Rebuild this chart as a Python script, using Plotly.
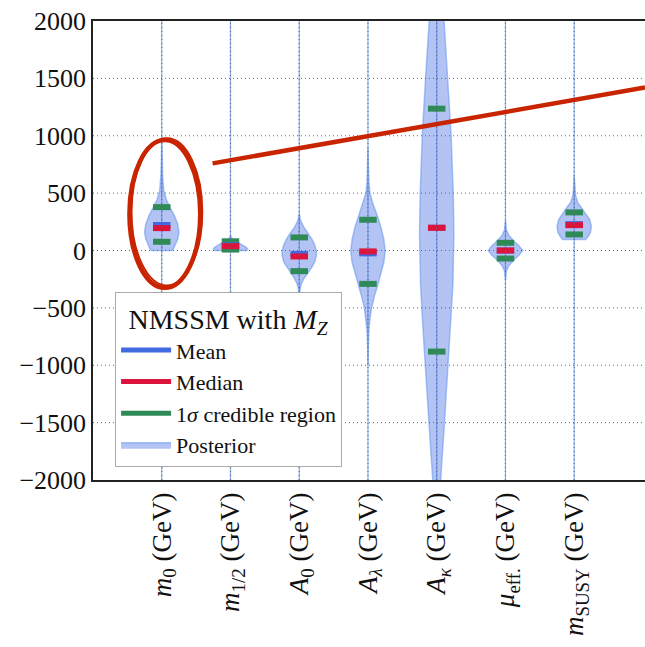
import plotly.graph_objects as go

# ---------------- data ----------------
categories = ["m0", "m12", "A0", "Alam", "Akap", "mueff", "msusy"]
tick_labels = [
    "<i>m</i><sub>0</sub> (GeV)",
    "<i>m</i><sub>1/2</sub> (GeV)",
    "<i>A</i><sub>0</sub> (GeV)",
    "<i>A</i><sub><i>λ</i></sub> (GeV)",
    "<i>A</i><sub><i>κ</i></sub> (GeV)",
    "<i>μ</i><sub>eff.</sub> (GeV)",
    "<i>m</i><sub>SUSY</sub> (GeV)",
]
mean_vals = [222, 45, -30, -25, 198, 0, 230]
median_vals = [195, 38, -52, -8, 198, 0, 221]
cred_low = [76, 8, -180, -291, -881, -70, 140]
cred_high = [378, 80, 114, 268, 1236, 67, 332]

# posterior density profiles: (value, relative half width)
prof_m0 = [(1000, 0.0), (800, 0.02), (650, 0.05), (520, 0.12), (440, 0.28), (370, 0.5),
           (300, 0.75), (230, 0.93), (160, 1.0), (100, 0.93), (50, 0.8), (15, 0.68), (0, 0.6)]
prof_m12 = [(130, 0.0), (110, 0.06), (90, 0.2), (70, 0.45), (50, 0.7), (30, 0.9),
            (12, 1.0), (0, 0.95)]
prof_A0 = [(320, 0.0), (260, 0.08), (200, 0.28), (150, 0.52), (100, 0.74), (50, 0.9),
           (0, 0.99), (-40, 1.0), (-100, 0.9), (-150, 0.72), (-200, 0.48), (-250, 0.25),
           (-300, 0.1), (-350, 0.03), (-390, 0.0)]
prof_Alam = [(900, 0.0), (700, 0.02), (600, 0.05), (500, 0.12), (400, 0.3), (300, 0.55),
             (200, 0.76), (100, 0.92), (0, 1.0), (-100, 0.93), (-200, 0.77), (-300, 0.57),
             (-400, 0.37), (-500, 0.21), (-600, 0.11), (-700, 0.05), (-850, 0.02), (-1000, 0.0)]
prof_Akap = [(2500, 0.22), (2000, 0.43), (1500, 0.65), (1000, 0.84), (500, 0.96), (150, 1.0),
             (-300, 0.94), (-700, 0.79), (-1000, 0.68), (-1500, 0.45), (-2000, 0.23), (-2500, 0.08)]
prof_mueff = [(260, 0.0), (180, 0.05), (130, 0.2), (80, 0.5), (40, 0.8), (0, 1.0),
              (-40, 0.8), (-80, 0.5), (-130, 0.2), (-180, 0.05), (-260, 0.0)]
prof_msusy = [(650, 0.0), (550, 0.03), (480, 0.08), (420, 0.2), (370, 0.45), (320, 0.7),
              (270, 0.9), (210, 1.0), (160, 0.95), (120, 0.8), (95, 0.66)]
profiles = [prof_m0, prof_m12, prof_A0, prof_Alam, prof_Akap, prof_mueff, prof_msusy]

y_ticks = [-2000, -1500, -1000, -500, 0, 500, 1000, 1500, 2000]

# ---------------- styling ----------------
FONT = "'Liberation Serif', 'Times New Roman', serif"
HALF = 0.25
FILL = "rgba(65,105,225,0.4)"
EDGE = "rgba(100,149,237,0.55)"
C_MEAN = "#4169e1"
C_MED = "#dc143c"
C_CRED = "#2e8b57"
X_RANGE = [-1.0, 7.03]

fig = go.Figure()

# violins
for i, prof in enumerate(profiles):
    ys = [p[0] for p in prof]
    ws = [p[1] for p in prof]
    xs = [i + HALF * w for w in ws] + [i - HALF * w for w in reversed(ws)]
    yy = ys + ys[::-1]
    fig.add_trace(go.Scatter(
        x=xs + [xs[0]], y=yy + [yy[0]], mode="lines", fill="toself",
        fillcolor=FILL, line=dict(color=EDGE, width=1.5),
        name="Posterior", legendgroup="post", showlegend=(i == 0),
        legendrank=4, hoverinfo="skip"))

xs_idx = list(range(len(categories)))

def bars(vals, color, name, rank, legend=True):
    fig.add_trace(go.Scatter(
        x=xs_idx, y=vals, mode="markers", showlegend=False,
        marker=dict(symbol="line-ew", size=12.5,
                    line=dict(color=color, width=6)), hoverinfo="skip"))
    if legend:
        fig.add_trace(go.Scatter(
            x=[None], y=[None], mode="lines", name=name, legendrank=rank,
            line=dict(color=color, width=5)))

bars(cred_low, C_CRED, "1<i>σ</i> credible region", 3)
bars(cred_high, C_CRED, "", 3, legend=False)
bars(mean_vals, C_MEAN, "Mean", 1)
bars(median_vals, C_MED, "Median", 2)

shapes = []
# light blue vertical bars at each category (full height)
for i in xs_idx:
    shapes.append(dict(type="line", xref="x", yref="paper", x0=i, x1=i, y0=0, y1=1,
                       line=dict(color="rgba(100,149,237,0.75)", width=1.3), layer="below"))
# dotted grid above data
for i in xs_idx:
    shapes.append(dict(type="line", xref="x", yref="paper", x0=i, x1=i, y0=0, y1=1,
                       line=dict(color="#666", width=1, dash="1px,3px"), layer="above"))
for v in y_ticks[1:-1]:
    shapes.append(dict(type="line", xref="paper", yref="y", x0=0, x1=1, y0=v, y1=v,
                       line=dict(color="#666", width=1, dash="1px,3px"), layer="above"))

# hand-drawn style red highlight
RED = "#c92400"
shapes.append(dict(type="circle", xref="x", yref="y", x0=-0.47, x1=0.56, y0=-325, y1=962,
                   line=dict(color=RED, width=4.5), layer="above"))
shapes.append(dict(type="circle", xref="x", yref="y", x0=-0.44, x1=0.59, y0=-305, y1=978,
                   line=dict(color=RED, width=2), layer="above"))
shapes.append(dict(type="line", xref="x", yref="y", x0=0.74, y0=759, x1=7.03, y1=1420,
                   line=dict(color=RED, width=4.5), layer="above"))

fig.update_layout(
    width=645, height=647,
    margin=dict(l=93, r=0, t=21, b=167),
    paper_bgcolor="white", plot_bgcolor="white",
    font=dict(family=FONT, size=26, color="#111"),
    shapes=shapes,
    showlegend=True,
    legend=dict(
        x=0.04, y=0.41, xanchor="left", yanchor="top",
        bgcolor="white", bordercolor="#aaa", borderwidth=1,
        font=dict(family=FONT, size=22, color="#111"),
        title=dict(text="NMSSM with <i>M</i><sub><i>Z</i></sub>",
                   font=dict(family=FONT, size=28), side="top center"),
        itemwidth=50, tracegroupgap=0,
    ),
    xaxis=dict(
        range=X_RANGE, tickmode="array", tickvals=xs_idx, ticktext=tick_labels,
        tickangle=-90, showgrid=False, zeroline=False, ticks="",
        showline=True, linecolor="#222", linewidth=1.5, mirror=True,
        tickfont=dict(family=FONT, size=27),
    ),
    yaxis=dict(
        range=[-2000, 2000], tickmode="array", tickvals=y_ticks,
        showgrid=False, zeroline=False, ticks="",
        showline=True, linecolor="#222", linewidth=1.5, mirror=False,
        tickfont=dict(family=FONT, size=26),
    ),
)

fig.write_html("out.html")
